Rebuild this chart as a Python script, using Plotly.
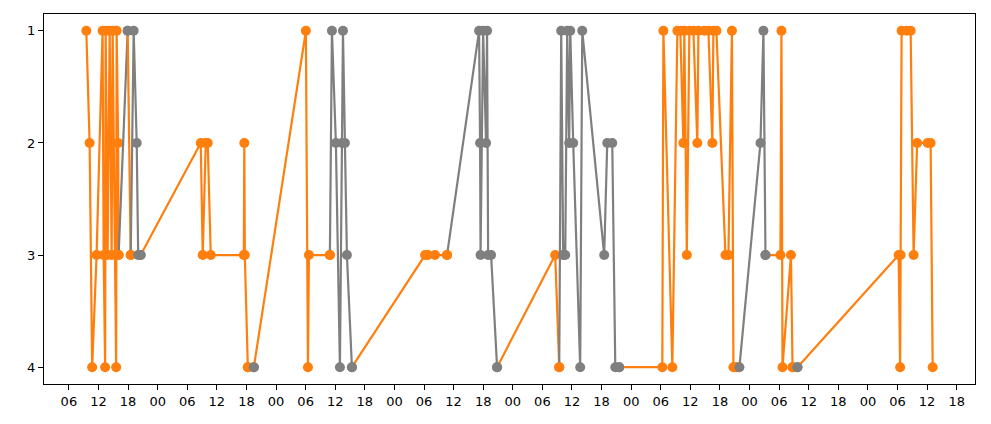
import plotly.graph_objects as go
import pandas as pd

times = [
    "2023-03-06 09:32", "2023-03-06 10:12", "2023-03-06 10:43", "2023-03-06 11:37",
    "2023-03-06 12:50", "2023-03-06 13:03", "2023-03-06 13:21", "2023-03-06 13:27",
    "2023-03-06 13:51", "2023-03-06 14:16", "2023-03-06 14:40", "2023-03-06 14:52",
    "2023-03-06 15:35", "2023-03-06 15:41", "2023-03-06 15:59", "2023-03-06 16:05",
    "2023-03-06 17:55", "2023-03-06 18:32", "2023-03-06 19:08", "2023-03-06 19:45",
    "2023-03-06 20:03", "2023-03-06 20:33",
    "2023-03-07 08:44", "2023-03-07 09:08", "2023-03-07 09:45", "2023-03-07 10:09",
    "2023-03-07 10:46", "2023-03-07 17:28", "2023-03-07 17:34", "2023-03-07 17:40",
    "2023-03-07 18:17", "2023-03-07 19:30",
    "2023-03-08 06:03", "2023-03-08 06:28", "2023-03-08 06:40", "2023-03-08 10:55",
    "2023-03-08 11:20", "2023-03-08 12:08", "2023-03-08 12:57", "2023-03-08 13:22",
    "2023-03-08 13:34", "2023-03-08 13:58", "2023-03-08 14:22", "2023-03-08 15:23",
    "2023-03-09 06:13", "2023-03-09 06:49", "2023-03-09 08:14", "2023-03-09 10:40",
    "2023-03-09 17:10", "2023-03-09 17:22", "2023-03-09 17:28", "2023-03-09 17:59",
    "2023-03-09 18:35", "2023-03-09 18:47", "2023-03-09 19:00", "2023-03-09 19:36",
    "2023-03-09 20:49",
    "2023-03-10 08:36", "2023-03-10 09:25", "2023-03-10 09:49", "2023-03-10 10:13",
    "2023-03-10 10:38", "2023-03-10 11:02", "2023-03-10 11:26", "2023-03-10 11:39",
    "2023-03-10 12:15", "2023-03-10 13:40", "2023-03-10 14:05", "2023-03-10 18:32",
    "2023-03-10 19:09", "2023-03-10 20:10", "2023-03-10 20:47", "2023-03-10 21:35",
    "2023-03-11 06:19", "2023-03-11 06:32", "2023-03-11 08:21", "2023-03-11 09:22",
    "2023-03-11 09:58", "2023-03-11 10:35", "2023-03-11 10:47", "2023-03-11 11:17",
    "2023-03-11 11:48", "2023-03-11 12:37", "2023-03-11 13:25", "2023-03-11 13:38",
    "2023-03-11 14:50", "2023-03-11 15:40", "2023-03-11 16:28", "2023-03-11 16:40",
    "2023-03-11 17:17", "2023-03-11 19:07", "2023-03-11 19:43", "2023-03-11 20:26",
    "2023-03-11 20:44", "2023-03-11 21:20", "2023-03-11 21:57",
    "2023-03-12 02:13", "2023-03-12 02:49", "2023-03-12 03:14", "2023-03-12 06:16",
    "2023-03-12 06:28", "2023-03-12 06:41", "2023-03-12 08:24", "2023-03-12 08:43",
    "2023-03-12 09:43",
    "2023-03-13 06:14", "2023-03-13 06:32", "2023-03-13 06:38", "2023-03-13 06:50",
    "2023-03-13 07:51", "2023-03-13 08:40", "2023-03-13 09:16", "2023-03-13 09:59",
    "2023-03-13 12:07", "2023-03-13 12:43", "2023-03-13 13:08",
]

values = [
    1, 2, 4, 3, 1, 3, 4, 1, 3, 1, 3, 1, 4, 1, 2, 3, 1, 3, 1, 2, 3, 3,
    2, 3, 2, 2, 3, 3, 2, 3, 4, 4,
    1, 4, 3, 3, 1, 2, 4, 2, 1, 2, 3, 4,
    3, 3, 3, 3, 1, 2, 3, 1, 2, 1, 3, 3, 4,
    3, 4, 1, 3, 3, 1, 2, 1, 2, 4, 1, 3, 2, 2, 4, 4,
    4, 1, 4, 1, 1, 2, 1, 3, 1, 1, 2, 1, 1, 1, 2, 1, 1, 3, 3, 1, 4, 4, 4,
    2, 1, 3, 3, 1, 4, 3, 4, 4,
    3, 4, 3, 1, 1, 1, 3, 2, 2, 2, 4,
]

groups = [
    "o", "o", "o", "o", "o", "o", "o", "o", "o", "o", "o", "o", "o", "o", "o", "o",
    "g", "o", "g", "g", "g", "g",
    "o", "o", "o", "o", "o", "o", "o", "o", "o", "g",
    "o", "o", "o", "o", "g", "g", "g", "g", "g", "g", "g", "g",
    "o", "o", "o", "o", "g", "g", "g", "g", "g", "g", "g", "g", "g",
    "o", "o", "g", "g", "g", "g", "g", "g", "g", "g", "g", "g", "g", "g", "g", "g",
    "o", "o", "o", "o", "o", "o", "o", "o", "o", "o", "o", "o", "o", "o", "o", "o",
    "o", "o", "o", "o", "o", "o", "g",
    "g", "g", "g", "o", "o", "o", "o", "o", "g",
    "o", "o", "o", "o", "o", "o", "o", "o", "o", "o", "o",
]

y_ticks = [1, 2, 3, 4]

COLORS = {"o": "#ff7f0e", "g": "#7f7f7f"}

t = pd.to_datetime(times)
fig = go.Figure()

# segment i (point i-1 -> point i) takes the colour of point i
n = len(times)
i = 1
while i < n:
    c = groups[i]
    j = i
    while j + 1 < n and groups[j + 1] == c:
        j += 1
    idx = list(range(i - 1, j + 1))
    fig.add_trace(go.Scatter(
        x=[t[k] for k in idx], y=[values[k] for k in idx],
        mode="lines+markers",
        line=dict(color=COLORS[c], width=2.2),
        marker=dict(color=[COLORS[groups[k]] for k in idx], size=10, line=dict(width=0)),
        showlegend=False, hoverinfo="skip",
    ))
    i = j + 1

span = t.max() - t.min()
x0 = t.min() - span * 0.05
x1 = t.max() + span * 0.05

# the page body adds an 8px offset, so the figure is slightly smaller
fig.update_layout(
    width=983, height=416, autosize=False,
    margin=dict(l=36, r=16, t=6, b=40, pad=0),
    paper_bgcolor="white", plot_bgcolor="white",
    font=dict(family="DejaVu Sans", size=13, color="black"),
)
fig.update_xaxes(
    range=[x0, x1], type="date", automargin=False,
    dtick=6 * 3600 * 1000, tick0="2023-03-06 00:00", tickformat="%H",
    showgrid=False, zeroline=False,
    showline=True, linecolor="black", linewidth=1, mirror=True,
    ticks="outside", ticklen=5, tickcolor="black", tickwidth=1,
)
fig.update_yaxes(
    range=[4.15, 0.85], tickvals=y_ticks, ticktext=[str(v) for v in y_ticks],
    automargin=False,
    showgrid=False, zeroline=False,
    showline=True, linecolor="black", linewidth=1, mirror=True,
    ticks="outside", ticklen=5, tickcolor="black", tickwidth=1,
)

fig.write_html("out.html")
